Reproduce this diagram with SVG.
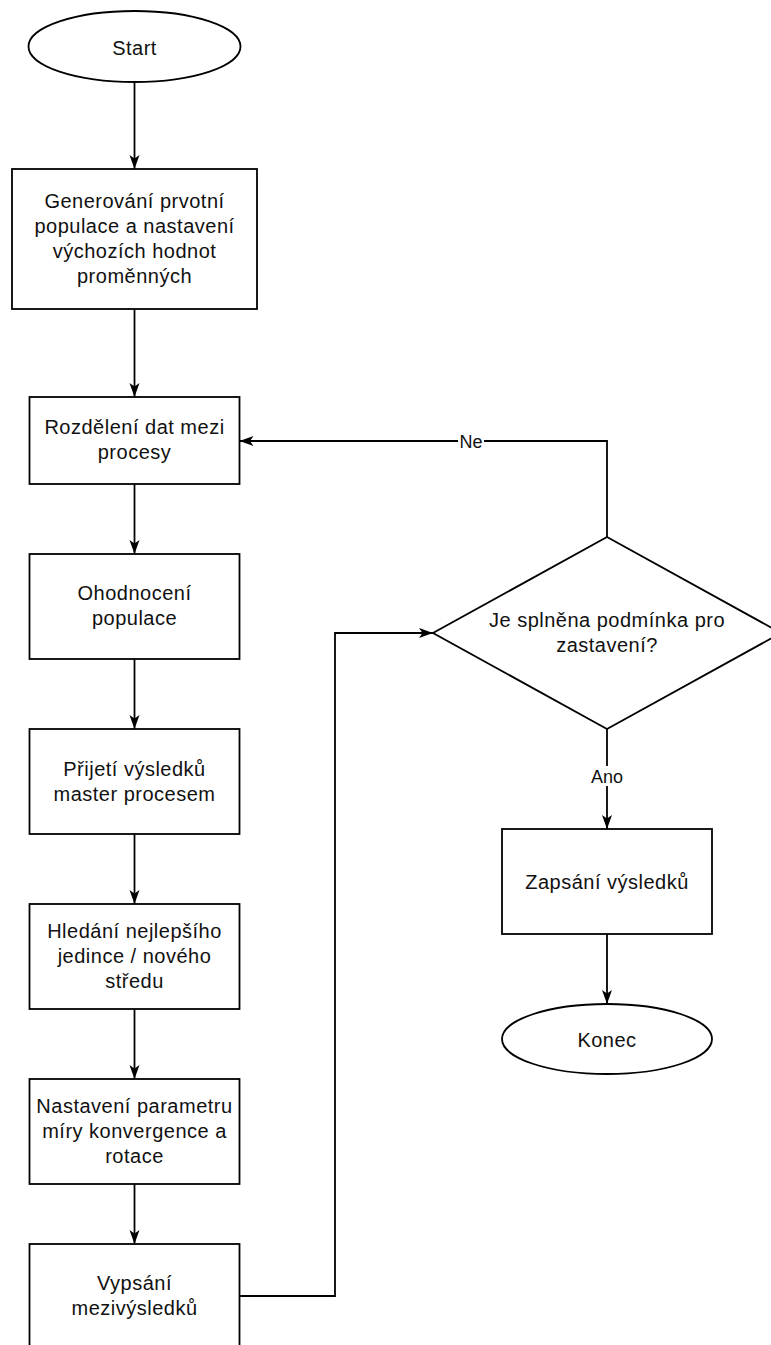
<svg xmlns="http://www.w3.org/2000/svg" width="771" height="1345" viewBox="0 0 771 1345">
  <style>
    .shape { fill: #ffffff; stroke: #000000; stroke-width: 1.8; }
    .edge { fill: none; stroke: #000000; stroke-width: 1.8; }
    .t { font-family: "Liberation Sans", Arial, sans-serif; font-size: 20px; fill: #111111; text-anchor: middle; letter-spacing: 0.5px; }
    .lbl { font-family: "Liberation Sans", Arial, sans-serif; font-size: 18px; fill: #111111; text-anchor: middle; }
  </style>
  <defs>
    <marker id="arrow" markerUnits="userSpaceOnUse" markerWidth="16" markerHeight="12" viewBox="0 0 16 12" refX="15" refY="6" orient="auto">
      <path d="M1,1 L15,6 L1,11 L4.5,6 Z" fill="#000000"/>
    </marker>
  </defs>

  <rect width="771" height="1345" fill="#ffffff"/>

  <!-- connectors -->
  <g id="connectors">
    <path class="edge" d="M134.5,82 V169" marker-end="url(#arrow)"/>
    <path class="edge" d="M134.5,309 V397" marker-end="url(#arrow)"/>
    <path class="edge" d="M134.5,484 V554" marker-end="url(#arrow)"/>
    <path class="edge" d="M134.5,659 V729" marker-end="url(#arrow)"/>
    <path class="edge" d="M134.5,834 V904" marker-end="url(#arrow)"/>
    <path class="edge" d="M134.5,1009 V1079" marker-end="url(#arrow)"/>
    <path class="edge" d="M134.5,1184 V1244" marker-end="url(#arrow)"/>
    <path class="edge" d="M239.5,1296 H335 V633 H433" marker-end="url(#arrow)"/>
    <path class="edge" d="M607,537 V441 H239.5" marker-end="url(#arrow)"/>
    <path class="edge" d="M607,729 V829" marker-end="url(#arrow)"/>
    <path class="edge" d="M607,934 V1004" marker-end="url(#arrow)"/>
    <g id="label-ne">
      <rect x="458" y="431" width="26" height="20" fill="#ffffff"/>
      <text class="lbl" x="471" y="448">Ne</text>
    </g>
    <g id="label-ano">
      <rect x="590" y="766" width="34" height="20" fill="#ffffff"/>
      <text class="lbl" x="607" y="783">Ano</text>
    </g>
  </g>

  <g id="start">
    <ellipse class="shape" cx="134.5" cy="46.5" rx="106" ry="35.5"/>
    <text class="t" x="134.5" y="55">Start</text>
  </g>

  <g id="init">
    <rect class="shape" x="12" y="169" width="245" height="140"/>
    <text class="t" x="134.5" y="208">Generování prvotní</text>
    <text class="t" x="134.5" y="233">populace a nastavení</text>
    <text class="t" x="134.5" y="258">výchozích hodnot</text>
    <text class="t" x="134.5" y="283">proměnných</text>
  </g>

  <g id="distribute">
    <rect class="shape" x="29.5" y="397" width="210" height="87"/>
    <text class="t" x="134.5" y="434">Rozdělení dat mezi</text>
    <text class="t" x="134.5" y="459">procesy</text>
  </g>

  <g id="evaluate">
    <rect class="shape" x="29.5" y="554" width="210" height="105"/>
    <text class="t" x="134.5" y="600">Ohodnocení</text>
    <text class="t" x="134.5" y="625">populace</text>
  </g>

  <g id="receive">
    <rect class="shape" x="29.5" y="729" width="210" height="105"/>
    <text class="t" x="134.5" y="776">Přijetí výsledků</text>
    <text class="t" x="134.5" y="801">master procesem</text>
  </g>

  <g id="best">
    <rect class="shape" x="29.5" y="904" width="210" height="105"/>
    <text class="t" x="134.5" y="938">Hledání nejlepšího</text>
    <text class="t" x="134.5" y="963">jedince / nového</text>
    <text class="t" x="134.5" y="988">středu</text>
  </g>

  <g id="params">
    <rect class="shape" x="29.5" y="1079" width="210" height="105"/>
    <text class="t" x="134.5" y="1113">Nastavení parametru</text>
    <text class="t" x="134.5" y="1138">míry konvergence a</text>
    <text class="t" x="134.5" y="1163">rotace</text>
  </g>

  <g id="print">
    <rect class="shape" x="29.5" y="1244" width="210" height="105"/>
    <text class="t" x="134.5" y="1290">Vypsání</text>
    <text class="t" x="134.5" y="1315">mezivýsledků</text>
  </g>

  <g id="decision">
    <polygon class="shape" points="607,537 781,633 607,729 433,633"/>
    <text class="t" x="607" y="627">Je splněna podmínka pro</text>
    <text class="t" x="607" y="652">zastavení?</text>
  </g>

  <g id="write">
    <rect class="shape" x="502" y="829" width="210" height="105"/>
    <text class="t" x="607" y="889">Zapsání výsledků</text>
  </g>

  <g id="end">
    <ellipse class="shape" cx="607" cy="1039" rx="105" ry="35"/>
    <text class="t" x="607" y="1047">Konec</text>
  </g>
</svg>
